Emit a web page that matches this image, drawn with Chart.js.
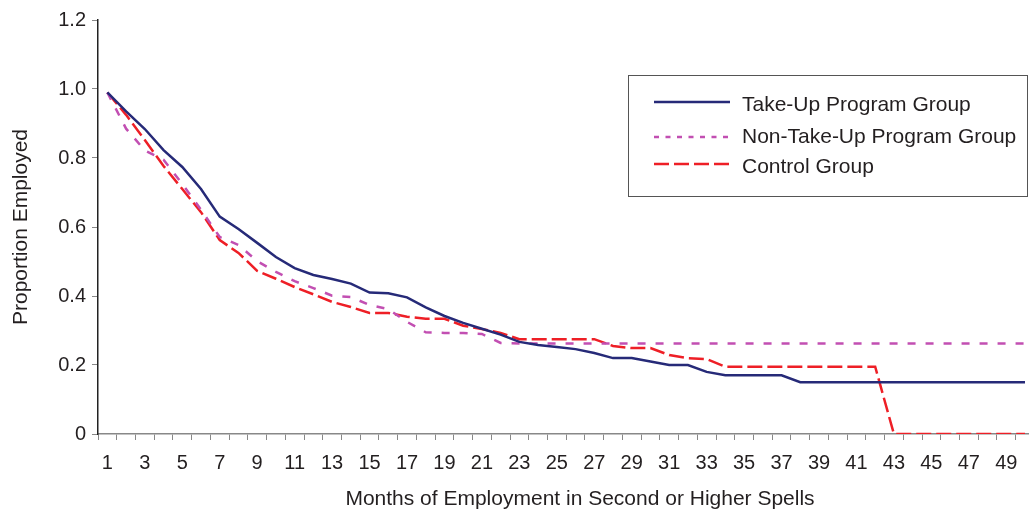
<!DOCTYPE html>
<html>
<head>
<meta charset="utf-8">
<script src="https://cdn.jsdelivr.net/npm/chart.js@4"></script>
<style>
  html, body { margin: 0; padding: 0; background: #fff; overflow: hidden; }
</style>
</head>
<body>
<canvas id="Chart" width="1036" height="509"></canvas>
<script>
const months = [1, 2, 3, 4, 5, 6, 7, 8, 9, 10, 11, 12, 13, 14, 15, 16, 17, 18, 19, 20,
    21, 22, 23, 24, 25, 26, 27, 28, 29, 30, 31, 32, 33, 34, 35, 36, 37, 38, 39, 40,
    41, 42, 43, 44, 45, 46, 47, 48, 49, 50];

const takeUp = [0.99, 0.935, 0.884, 0.823, 0.774, 0.71, 0.63, 0.594, 0.554, 0.513,
    0.481, 0.461, 0.449, 0.436, 0.41, 0.408, 0.396, 0.367, 0.342, 0.322,
    0.305, 0.288, 0.267, 0.258, 0.252, 0.246, 0.235, 0.22, 0.22, 0.21,
    0.2, 0.2, 0.18, 0.17, 0.17, 0.17, 0.17, 0.15, 0.15, 0.15,
    0.15, 0.15, 0.15, 0.15, 0.15, 0.15, 0.15, 0.15, 0.15, 0.15];

const nonTakeUp = [0.99, 0.885, 0.822, 0.795, 0.725, 0.65, 0.571, 0.548, 0.501, 0.47,
    0.443, 0.423, 0.401, 0.397, 0.374, 0.362, 0.325, 0.295, 0.293, 0.293,
    0.29, 0.264, 0.262, 0.262, 0.262, 0.262, 0.262, 0.262, 0.262, 0.262,
    0.262, 0.262, 0.262, 0.262, 0.262, 0.262, 0.262, 0.262, 0.262, 0.262,
    0.262, 0.262, 0.262, 0.262, 0.262, 0.262, 0.262, 0.262, 0.262, 0.262];

const control = [0.99, 0.925, 0.852, 0.777, 0.71, 0.643, 0.562, 0.525, 0.473, 0.45,
    0.426, 0.405, 0.383, 0.368, 0.351, 0.351, 0.34, 0.334, 0.334, 0.314,
    0.304, 0.293, 0.275, 0.275, 0.275, 0.275, 0.275, 0.255, 0.249, 0.249,
    0.229, 0.22, 0.217, 0.195, 0.195, 0.195, 0.195, 0.195, 0.195, 0.195,
    0.195, 0.195, 0, 0, 0, 0, 0, 0, 0, 0];

const seriesNames = ['Take-Up Program Group', 'Non-Take-Up Program Group', 'Control Group'];
const yTicks = [0, 0.2, 0.4, 0.6, 0.8, 1.0, 1.2];

const textColor = '#231f20';
const font = 'Liberation Sans, Arial, sans-serif';

// legend box in the top right, with long line samples
const boxLegend = {
    id: 'boxLegend',
    afterDraw(chart) {
        const c = chart.ctx;
        c.save();
        c.strokeStyle = '#555';
        c.lineWidth = 1;
        c.strokeRect(628.5, 75.5, 399, 121);
        const lineRows = [102, 137, 164];
        const textRows = [105, 137, 167];
        const dashes = [[], [5, 6.5], [15, 5]];
        chart.data.datasets.forEach((ds, i) => {
            c.beginPath();
            c.setLineDash(dashes[i]);
            c.strokeStyle = ds.borderColor;
            c.lineWidth = 2.5;
            c.moveTo(654, lineRows[i]);
            c.lineTo(730, lineRows[i]);
            c.stroke();
            c.setLineDash([]);
            c.fillStyle = textColor;
            c.font = '21px ' + font;
            c.textBaseline = 'middle';
            c.textAlign = 'left';
            c.fillText(ds.label, 742, textRows[i]);
        });
        // x axis title
        c.textAlign = 'center';
        c.fillText('Months of Employment in Second or Higher Spells', 580, 499);
        c.restore();
    }
};

const ctx = document.getElementById('Chart').getContext('2d');
const chart = new Chart(ctx, {
    type: 'line',
    data: {
        labels: months,
        datasets: [{
            label: seriesNames[0],
            data: takeUp,
            borderColor: '#262a78',
            borderWidth: 2.5
        }, {
            label: seriesNames[1],
            data: nonTakeUp,
            borderColor: '#c24fb2',
            borderWidth: 2.5,
            borderDash: [8, 10]
        }, {
            label: seriesNames[2],
            data: control,
            borderColor: '#ee1f26',
            borderWidth: 2.5,
            borderDash: [15, 5]
        }]
    },
    options: {
        responsive: false,
        animation: false,
        layout: { padding: { top: 20, right: 0, left: 0, bottom: 0 } },
        elements: {
            point: { radius: 0 },
            line: { tension: 0, fill: false }
        },
        plugins: {
            legend: { display: false },
            tooltip: { enabled: false }
        },
        scales: {
            x: {
                offset: true,
                grid: { offset: true, drawOnChartArea: false, tickLength: 6, tickColor: '#888' },
                border: { color: '#888', width: 1.5 },
                ticks: {
                    autoSkip: false,
                    maxRotation: 0,
                    padding: 11,
                    color: textColor,
                    font: { family: font, size: 20 },
                    callback: (v, i) => (i % 2 === 0 ? String(months[i]) : '')
                },
                afterFit: s => { s.height = 75; }
            },
            y: {
                min: 0,
                max: 1.2,
                afterBuildTicks: s => { s.ticks = yTicks.map(v => ({ value: v })); },
                grid: { drawOnChartArea: false, tickLength: 6, tickColor: '#888' },
                border: { color: '#222', width: 1.5 },
                ticks: {
                    padding: 6,
                    color: textColor,
                    font: { family: font, size: 20 },
                    callback: v => (v === 0 ? '0' : v.toFixed(1))
                },
                title: {
                    display: true,
                    text: 'Proportion Employed',
                    color: textColor,
                    font: { family: font, size: 21 },
                    padding: { top: 9, bottom: 0 }
                },
                afterFit: s => { s.width = 98; }
            }
        }
    },
    plugins: [boxLegend]
});
</script>
</body>
</html>
